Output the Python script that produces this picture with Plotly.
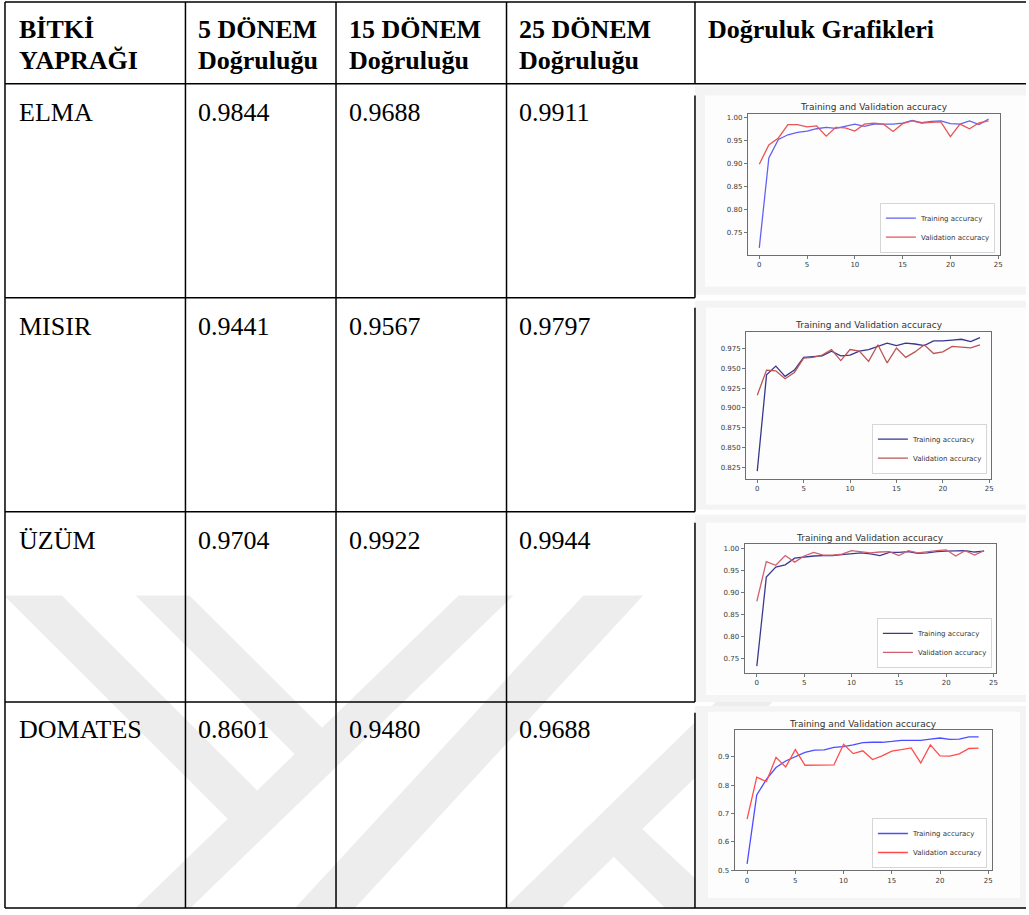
import plotly.graph_objects as go

W, H = 1029, 915

# ---------------- table data ----------------
plants = ["ELMA", "MISIR", "ÜZÜM", "DOMATES"]
acc_5_epochs = [0.9844, 0.9441, 0.9704, 0.8601]
acc_15_epochs = [0.9688, 0.9567, 0.9922, 0.9480]
acc_25_epochs = [0.9911, 0.9797, 0.9944, 0.9688]
header_line1 = ["BİTKİ", "5 DÖNEM", "15 DÖNEM", "25 DÖNEM", "Doğruluk Grafikleri"]
header_line2 = ["YAPRAĞI", "Doğruluğu", "Doğruluğu", "Doğruluğu", ""]

# ---------------- mini chart data ----------------
epochs = list(range(25))
elma_train = [0.717, 0.912, 0.952, 0.962, 0.967, 0.970, 0.975, 0.978, 0.976, 0.980, 0.985, 0.980, 0.985,
              0.985, 0.985, 0.987, 0.993, 0.988, 0.991, 0.992, 0.986, 0.985, 0.992, 0.984, 0.996]
elma_val = [0.898, 0.940, 0.955, 0.984, 0.984, 0.979, 0.981, 0.959, 0.978, 0.977, 0.970, 0.985, 0.987,
            0.985, 0.969, 0.986, 0.992, 0.987, 0.989, 0.990, 0.958, 0.985, 0.975, 0.988, 0.992]
misir_train = [0.820, 0.942, 0.953, 0.940, 0.948, 0.964, 0.965, 0.966, 0.972, 0.966, 0.967, 0.972, 0.974,
               0.978, 0.982, 0.979, 0.982, 0.981, 0.979, 0.985, 0.985, 0.986, 0.987, 0.984, 0.989]
misir_val = [0.916, 0.948, 0.947, 0.937, 0.945, 0.963, 0.964, 0.967, 0.974, 0.960, 0.974, 0.972, 0.959,
             0.980, 0.957, 0.976, 0.964, 0.971, 0.980, 0.969, 0.971, 0.978, 0.977, 0.976, 0.980]
uzum_train = [0.733, 0.935, 0.958, 0.963, 0.978, 0.981, 0.983, 0.984, 0.984, 0.986, 0.988, 0.990, 0.988,
              0.984, 0.991, 0.991, 0.993, 0.989, 0.990, 0.993, 0.994, 0.995, 0.995, 0.992, 0.994]
uzum_val = [0.880, 0.970, 0.962, 0.984, 0.969, 0.983, 0.991, 0.985, 0.985, 0.987, 0.995, 0.993, 0.990,
            0.992, 0.993, 0.984, 0.995, 0.990, 0.993, 0.995, 0.997, 0.983, 0.995, 0.985, 0.995]
domates_train = [0.522, 0.765, 0.820, 0.862, 0.885, 0.900, 0.915, 0.923, 0.924, 0.933, 0.936, 0.942, 0.950,
                 0.951, 0.951, 0.954, 0.958, 0.958, 0.958, 0.962, 0.966, 0.961, 0.962, 0.970, 0.970]
domates_val = [0.680, 0.828, 0.812, 0.898, 0.864, 0.925, 0.870, 0.871, 0.872, 0.871, 0.944, 0.911, 0.921,
               0.890, 0.903, 0.920, 0.925, 0.931, 0.878, 0.942, 0.903, 0.902, 0.910, 0.929, 0.930]

x_ticks = [0, 5, 10, 15, 20, 25]
y_ticks_elma = [0.75, 0.80, 0.85, 0.90, 0.95, 1.00]
y_ticks_misir = [0.825, 0.850, 0.875, 0.900, 0.925, 0.950, 0.975]
y_ticks_uzum = [0.75, 0.80, 0.85, 0.90, 0.95, 1.00]
y_ticks_domates = [0.5, 0.6, 0.7, 0.8, 0.9]

chart_title = "Training and Validation accuracy"
train_label = "Training accuracy"
val_label = "Validation accuracy"


def px(x):
    return x / W


def py(y):
    return 1 - y / H


fig = go.Figure()
shapes = []
annotations = []

# ---------------- watermark (light grey bands) ----------------
WM = "#ededed"
wm_polys = [
    [(4, 598), (62, 598), (258, 794), (229, 823)],
    [(136, 598), (190, 598), (323, 731), (296, 758)],
    [(460, 598), (515, 598), (190, 913), (135, 913)],
    [(585, 598), (645, 598), (355, 913), (295, 913)],
    [(505, 913), (562, 913), (780, 700), (723, 700)],
    [(636, 825), (730, 913), (668, 913), (608, 853)],
]
for poly in wm_polys:
    path = "M " + " L ".join(f"{px(a):.5f},{py(b):.5f}" for a, b in poly) + " Z"
    shapes.append(dict(type="path", xref="paper", yref="paper", path=path,
                       fillcolor=WM, line=dict(width=0), layer="below"))

# ---------------- chart image backgrounds ----------------
img_outer = [(697, 86, 1029, 296), (697, 302, 1029, 512), (697, 517, 1029, 705), (697, 709, 1029, 913)]
img_inner = [(707, 96, 1029, 288), (708, 309, 1029, 507), (708, 525, 1029, 698), (710, 715, 1023, 902)]
for (x0, y0, x1, y1) in img_outer:
    shapes.append(dict(type="rect", xref="paper", yref="paper", x0=px(x0), x1=px(x1), y0=py(y1), y1=py(y0),
                       fillcolor="#f4f4f4", line=dict(width=0), layer="below"))
for (x0, y0, x1, y1) in img_inner:
    shapes.append(dict(type="rect", xref="paper", yref="paper", x0=px(x0), x1=px(x1), y0=py(y1), y1=py(y0),
                       fillcolor="#fdfdfd", line=dict(width=0), layer="below"))

# ---------------- table grid ----------------
col_x = [5, 186, 337, 508, 697]
row_y = [2, 84, 299, 514, 705, 912]
LW = 1.5


def hline(x0, x1, y):
    shapes.append(dict(type="line", xref="paper", yref="paper", x0=px(x0), x1=px(x1), y0=py(y), y1=py(y),
                       line=dict(color="black", width=LW)))


def vline(x, y0, y1):
    shapes.append(dict(type="line", xref="paper", yref="paper", x0=px(x), x1=px(x), y0=py(y0), y1=py(y1),
                       line=dict(color="black", width=LW)))


hline(5, 1029, row_y[0])
hline(5, 1029, row_y[1])
for yy in row_y[2:5]:
    hline(5, 697, yy)
hline(5, 1029, row_y[5])
for xx in col_x[:4]:
    vline(xx, row_y[0], row_y[5])
for (a, b) in [(2, 84), (96, 299), (309, 514), (525, 705), (716, 912)]:
    vline(697, a, b)

# ---------------- table text ----------------
FS = 26
SERIF = "Liberation Serif"
text_x = [17, 197, 348, 519, 708]
row_base = [122, 336.5, 552, 741]
off = 0.3375 * FS


def txt(x, baseline, s, bold=False):
    annotations.append(dict(xref="paper", yref="paper", x=px(x), y=py(baseline - off),
                            xanchor="left", yanchor="middle", showarrow=False,
                            text=(f"<b>{s}</b>" if bold else s),
                            font=dict(family=SERIF, size=FS, color="black")))


for i in range(5):
    txt(text_x[i], 38, header_line1[i], bold=True)
    if header_line2[i]:
        txt(text_x[i], 70, header_line2[i], bold=True)

for r in range(4):
    txt(text_x[0], row_base[r], plants[r])
    txt(text_x[1], row_base[r], f"{acc_5_epochs[r]:.4f}")
    txt(text_x[2], row_base[r], f"{acc_15_epochs[r]:.4f}")
    txt(text_x[3], row_base[r], f"{acc_25_epochs[r]:.4f}")

# ---------------- mini charts ----------------
charts = [
    dict(train=elma_train, val=elma_val, box=(750, 114, 1003, 255.7), xr=[-1.2, 25.2], yr=[0.7026, 1.008],
         yt=y_ticks_elma, yfmt="{:.2f}", title_y=107, ctrain="#6262f2", cval="#e85555",
         leg=(998, 254)),
    dict(train=misir_train, val=misir_val, box=(748.3, 333.3, 994, 480.7), xr=[-1.2, 25.2], yr=[0.8106, 0.9964],
         yt=y_ticks_misir, yfmt="{:.3f}", title_y=326.7, ctrain="#36368e", cval="#bb5555",
         leg=(990, 476)),
    dict(train=uzum_train, val=uzum_val, box=(746.7, 546.7, 999.3, 675.7), xr=[-1.3, 25.3], yr=[0.718, 1.0095],
         yt=y_ticks_uzum, yfmt="{:.2f}", title_y=540, ctrain="#3a3a92", cval="#d06070",
         leg=(995, 671)),
    dict(train=domates_train, val=domates_val, box=(736.7, 733.3, 995, 874), xr=[-1.3, 25.4], yr=[0.4996, 0.994],
         yt=y_ticks_domates, yfmt="{:.1f}", title_y=727.3, ctrain="#4d4dff", cval="#ff4d4d",
         leg=(990, 872)),
]

TICKFONT = dict(family="DejaVu Sans", size=7, color="#3a3a3a")
layout_axes = {}
for k, c in enumerate(charts, start=1):
    sfx = "" if k == 1 else str(k)
    x0, y0, x1, y1 = c["box"]
    leg_name = "legend" if k == 1 else f"legend{k}"
    fig.add_trace(go.Scatter(x=epochs, y=c["train"], mode="lines", name=train_label,
                             line=dict(color=c["ctrain"], width=1.3),
                             xaxis=f"x{sfx}", yaxis=f"y{sfx}", legend=leg_name))
    fig.add_trace(go.Scatter(x=epochs, y=c["val"], mode="lines", name=val_label,
                             line=dict(color=c["cval"], width=1.3),
                             xaxis=f"x{sfx}", yaxis=f"y{sfx}", legend=leg_name))
    common = dict(showline=True, mirror=True, linecolor="#6e6e6e", linewidth=1, ticks="outside",
                  ticklen=3, tickwidth=0.8, tickcolor="#555555", showgrid=False, zeroline=False,
                  tickfont=TICKFONT, fixedrange=True)
    layout_axes[f"xaxis{sfx}"] = dict(domain=[px(x0), px(x1)], anchor=f"y{sfx}", range=c["xr"],
                                      tickvals=x_ticks, ticktext=[str(t) for t in x_ticks], **common)
    layout_axes[f"yaxis{sfx}"] = dict(domain=[py(y1), py(y0)], anchor=f"x{sfx}", range=c["yr"],
                                      tickvals=c["yt"], ticktext=[c["yfmt"].format(t) for t in c["yt"]],
                                      **common)
    layout_axes[leg_name] = dict(x=px(c["leg"][0]), y=py(c["leg"][1]), xanchor="right", yanchor="bottom",
                                 xref="paper", yref="paper",
                                 font=dict(family="DejaVu Sans", size=7, color="#333333"),
                                 bgcolor="rgba(255,255,255,0.9)", bordercolor="#cccccc", borderwidth=0.8,
                                 itemwidth=30, tracegroupgap=0)
    annotations.append(dict(xref="paper", yref="paper", x=px((x0 + x1) / 2), y=py(c["title_y"]),
                            xanchor="center", yanchor="middle", showarrow=False, text=chart_title,
                            font=dict(family="DejaVu Sans", size=9, color="#333333")))

fig.update_layout(
    width=W, height=H,
    margin=dict(l=0, r=0, t=0, b=0),
    paper_bgcolor="white",
    plot_bgcolor="rgba(0,0,0,0)",
    shapes=shapes,
    annotations=annotations,
    showlegend=True,
    **layout_axes,
)

fig.write_html("out.html", config={"displayModeBar": False, "staticPlot": True},
               post_script="document.body.style.margin='0';document.body.style.overflow='hidden';")
